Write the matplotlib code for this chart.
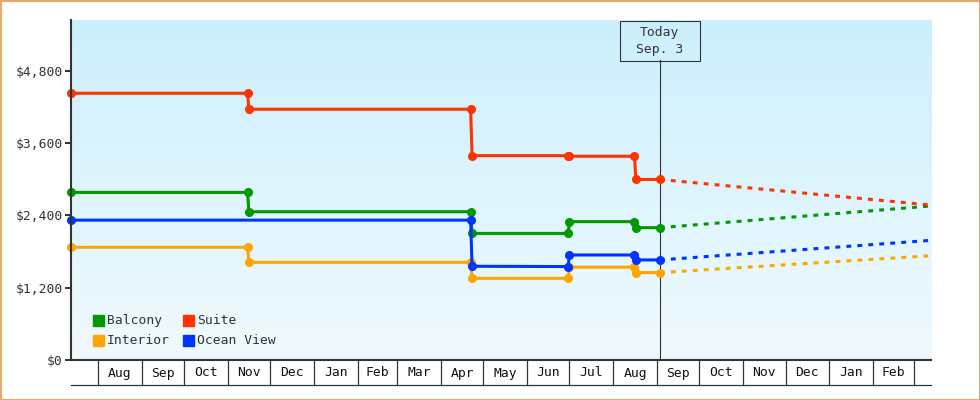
import datetime as dt
import numpy as np
import matplotlib
matplotlib.use("Agg")
import matplotlib.pyplot as plt
import matplotlib.dates as mdates
from matplotlib.patches import Rectangle
from matplotlib.transforms import blended_transform_factory

FONT = "DejaVu Sans Mono"
INK = "#333333"
FS = 9.4

# --- data -------------------------------------------------------------
x_start = "2022-07-13"
x_end = "2024-03-13"
today = "2023-09-03"
today_label = ["Today", "Sep. 3"]

full_dates = ["2022-07-13", "2022-11-15", "2022-11-16", "2023-04-22", "2023-04-23",
              "2023-06-30", "2023-07-01", "2023-08-16", "2023-08-17", "2023-09-03"]
ocean_dates = ["2022-07-13", "2023-04-22", "2023-04-23",
               "2023-06-30", "2023-07-01", "2023-08-16", "2023-08-17", "2023-09-03"]

balcony = [2780, 2780, 2460, 2460, 2100, 2100, 2295, 2295, 2195, 2195]
suite = [4425, 4425, 4160, 4160, 3390, 3390, 3380, 3380, 2995, 2995]
interior = [1870, 1870, 1620, 1620, 1355, 1355, 1540, 1540, 1450, 1450]
ocean_view = [2320, 2320, 1555, 1550, 1742, 1742, 1660, 1660]

series_names = ["Balcony", "Suite", "Interior", "Ocean View"]
series_colors = ["#009900", "#ff3300", "#ffa500", "#0033ff"]
forecast_end = [2555, 2570, 1730, 1985]

y_ticks = [0, 1200, 2400, 3600, 4800]
y_max = 5640


def d(s):
    return dt.datetime.strptime(s, "%Y-%m-%d")


series_dates = [full_dates, full_dates, full_dates, ocean_dates]
series_values = [balcony, suite, interior, ocean_view]

fig = plt.figure(figsize=(9.8, 4.0), dpi=100)
ax = fig.add_axes([71 / 980, 40 / 400, 860 / 980, 340 / 400])

# gradient background
top = np.array([204, 239, 252]) / 255
bot = np.array([240, 250, 254]) / 255
grad = np.linspace(0, 1, 256)[:, None, None] * (bot - top) + top
ax.imshow(grad, extent=[0, 1, 0, 1], transform=ax.transAxes, aspect="auto", zorder=0)

t0, t1, tt = d(x_start), d(x_end), d(today)

for name, color, ds, vals, fend in zip(series_names, series_colors, series_dates,
                                       series_values, forecast_end):
    xs = [d(s) for s in ds]
    ax.plot(xs, vals, color=color, lw=2.2, marker="o", ms=5.5, zorder=3,
            solid_capstyle="butt", clip_on=False)
    ax.plot([tt, t1], [vals[-1], fend], color=color, lw=2.2, ls=(0, (1.6, 2.0)),
            zorder=2, clip_on=False)

ax.set_xlim(t0, t1)
ax.set_ylim(0, y_max)
ax.set_yticks(y_ticks)
ax.set_yticklabels(["${:,.0f}".format(v) for v in y_ticks], family=FONT, fontsize=FS,
                   color=INK)
ax.tick_params(axis="y", length=4.3, width=1.4, color=INK, pad=1.5)
ax.tick_params(axis="x", bottom=False, labelbottom=False)
for s in ["top", "right"]:
    ax.spines[s].set_visible(False)
for s in ["left", "bottom"]:
    ax.spines[s].set_linewidth(1.5)
    ax.spines[s].set_color(INK)
    ax.spines[s].set_zorder(4)

# month cells under the axis
trans = blended_transform_factory(ax.transData, ax.transAxes)
cell_bot = -25 / 340
months = []
m = dt.datetime(t0.year, t0.month, 1)
while m <= t1:
    months.append(m)
    m = dt.datetime(m.year + (m.month == 12), m.month % 12 + 1, 1)
for i, ms in enumerate(months):
    if ms < t0:
        continue
    ax.plot([ms, ms], [0, cell_bot], color=INK, lw=0.9, transform=trans, clip_on=False)
    if i + 1 < len(months) and months[i + 1] <= t1:
        mid = ms + (months[i + 1] - ms) / 2
        ax.text(mid, -13 / 340, ms.strftime("%b"), transform=trans, ha="center",
                va="center", family=FONT, fontsize=FS, color="#111111")
ax.plot([t0, t1], [cell_bot, cell_bot], color=INK, lw=0.9, transform=trans, clip_on=False)

# today marker
ax.plot([tt, tt], [0, (360 - 60.3) / 340], color=INK, lw=0.8, transform=trans,
        zorder=1.5, clip_on=False)
fig.canvas.draw()
x_px = ax.transData.transform((mdates.date2num(tt), 0))[0]
fig.patches.append(Rectangle(((x_px - 40) / 980, 1 - 60.5 / 400), 80 / 980, 40 / 400,
                             transform=fig.transFigure, fill=False, ec=INK, lw=0.8))
fig.text(x_px / 980, 1 - 32.5 / 400, today_label[0], ha="center", va="center",
         family=FONT, fontsize=FS, color=INK)
fig.text(x_px / 980, 1 - 50 / 400, today_label[1], ha="center", va="center",
         family=FONT, fontsize=FS, color=INK)

# legend
leg_pos = [(22, 315), (112.3, 315), (22, 335.3), (112.3, 335.3)]
for (lx, ly), name, color in zip(leg_pos, series_names, series_colors):
    ax.add_patch(Rectangle((lx / 860, (360 - ly - 10.7) / 340), 10.7 / 860, 10.7 / 340,
                           transform=ax.transAxes, color=color, zorder=5))
    ax.text((lx + 13.5) / 860, (360 - ly - 5.3) / 340, name, transform=ax.transAxes,
            ha="left", va="center", family=FONT, fontsize=FS, color=INK, zorder=5)

# orange frame
fig.patches.append(Rectangle((0, 0), 1, 1, transform=fig.transFigure, fill=False,
                             ec="#e9a864", lw=2.2))

fig.savefig("out.png", dpi=100)
